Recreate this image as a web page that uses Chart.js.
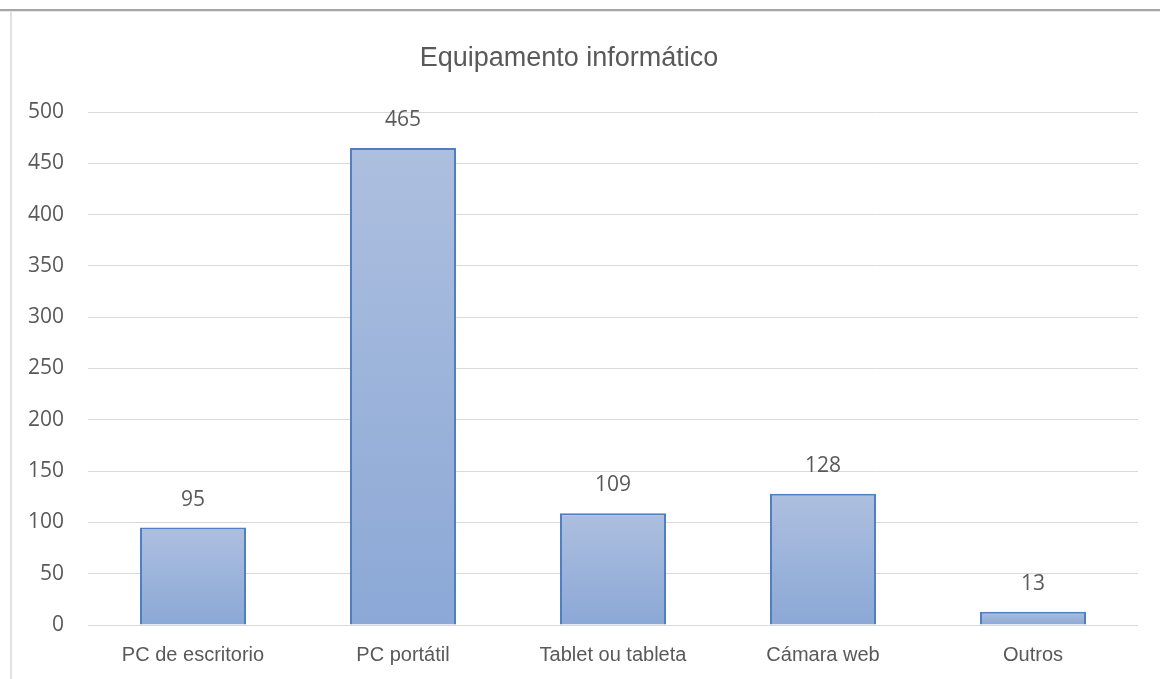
<!DOCTYPE html>
<html>
<head>
<meta charset="utf-8">
<script src="https://cdn.jsdelivr.net/npm/chart.js@4/dist/chart.umd.min.js"></script>
<style>
html,body{margin:0;padding:0;background:#fff;}
#wrap{position:relative;width:1160px;height:679px;overflow:hidden;}
#topline{position:absolute;left:0;top:9px;width:1160px;height:2px;background:#a6a6a6;}
#topline2{position:absolute;left:0;top:11px;width:1160px;height:1px;background:#e6e6e6;}
#leftline{position:absolute;left:10px;top:12px;width:2px;height:667px;background:#e0e0e0;}
canvas{position:absolute;left:0;top:0;}
</style>
</head>
<body>
<div id="wrap">
<canvas id="c" width="1160" height="679"></canvas>
<div id="topline"></div>
<div id="topline2"></div>
<div id="leftline"></div>
</div>
<script>
const chartTitle = "Equipamento informático";
const categories = ["PC de escritorio", "PC portátil", "Tablet ou tableta", "Cámara web", "Outros"];
const values = [95, 465, 109, 128, 13];
const yTicks = [0, 50, 100, 150, 200, 250, 300, 350, 400, 450, 500];

const textColor = "#595959";
const titleFont = "'Liberation Sans', Arial, sans-serif";
const labelFont = "'Liberation Sans', Arial, sans-serif";
const numFont = "'Open Sans', 'Noto Sans', sans-serif";

function barGradient(ctx) {
  const chart = ctx.chart;
  const area = chart.chartArea;
  if (!area || ctx.type !== 'data') return '#9db3da';
  const ys = chart.scales.y;
  const top = ys.getPixelForValue(ctx.raw);
  const bottom = ys.getPixelForValue(0);
  const g = chart.ctx.createLinearGradient(0, top, 0, bottom);
  g.addColorStop(0, '#adbfdf');
  g.addColorStop(1, '#8ba8d6');
  return g;
}

const labelPlugin = {
  id: 'valueLabels',
  afterDatasetsDraw(chart) {
    const ctx = chart.ctx;
    const meta = chart.getDatasetMeta(0);
    ctx.save();
    ctx.fillStyle = textColor;
    ctx.font = "21px " + numFont;
    ctx.textAlign = 'center';
    ctx.textBaseline = 'middle';
    meta.data.forEach((el, i) => {
      ctx.fillText(String(values[i]), el.x, el.y - 28);
    });
    ctx.restore();
  }
};

new Chart(document.getElementById('c'), {
  type: 'bar',
  data: {
    labels: categories,
    datasets: [{
      data: values,
      backgroundColor: barGradient,
      borderColor: '#4f7fc0',
      borderWidth: 2,
      borderSkipped: 'bottom',
      categoryPercentage: 1,
      barPercentage: 0.505
    }]
  },
  options: {
    responsive: false,
    animation: false,
    devicePixelRatio: 1,
    layout: { padding: { left: 0, right: 22, top: 0, bottom: 0 } },
    plugins: {
      legend: { display: false },
      tooltip: { enabled: false },
      title: {
        display: true,
        text: chartTitle,
        color: textColor,
        font: { family: titleFont, size: 27, weight: 'normal' },
        padding: { top: 42, bottom: 37.6 }
      }
    },
    scales: {
      x: {
        afterFit(scale) { scale.height = 54; },
        grid: { display: false, drawTicks: false },
        border: { display: false },
        ticks: { color: textColor, font: { family: labelFont, size: 20 }, padding: 18, maxRotation: 0, autoSkip: false }
      },
      y: {
        min: 0,
        max: 500,
        afterFit(scale) { scale.width = 88; },
        afterBuildTicks(scale) { scale.ticks = yTicks.map(v => ({ value: v })); },
        grid: { color: '#d9d9d9', lineWidth: 1, drawTicks: false },
        border: { display: false },
        ticks: { color: textColor, font: { family: numFont, size: 21 }, padding: 24 }
      }
    }
  },
  plugins: [labelPlugin]
});
</script>
</body>
</html>
